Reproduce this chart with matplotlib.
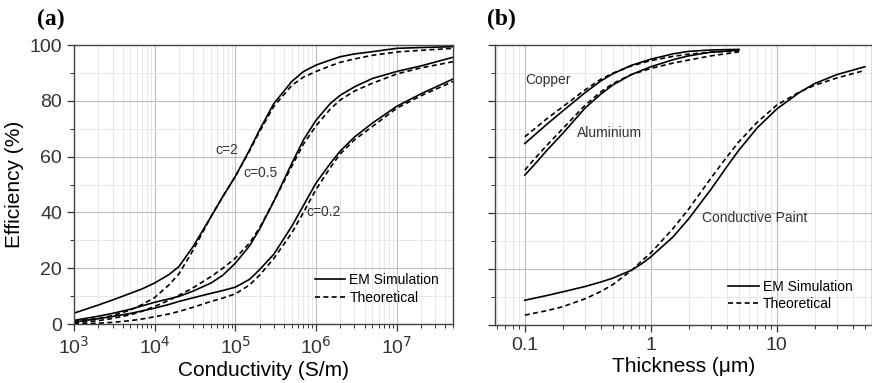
import matplotlib
matplotlib.use('Agg')
import matplotlib.pyplot as plt
from matplotlib.ticker import LogLocator, MultipleLocator, NullFormatter, FixedLocator, FixedFormatter
import numpy as np

plt.rcParams['font.family'] = ['Liberation Sans', 'DejaVu Sans']

# ---- panel (a): efficiency vs conductivity ----
sigma = [1e3, 2e3, 3e3, 5e3, 7e3, 1e4, 1.5e4, 2e4, 3e4, 5e4, 7e4, 1e5, 1.5e5, 2e5,
         3e5, 5e5, 7e5, 1e6, 1.5e6, 2e6, 3e6, 5e6, 1e7, 2e7, 5e7]
c2_em = [3.9, 6.8, 8.6, 11.0, 12.6, 14.7, 17.7, 20.6, 27.8, 38.5, 45.7, 52.9, 62.4, 69.6,
         79.0, 86.9, 90.5, 92.8, 94.6, 95.8, 96.8, 97.6, 98.8, 99.1, 99.4]
c2_th = [1.0, 2.0, 3.0, 5.0, 7.0, 9.5, 14.0, 18.0, 26.5, 38.5, 45.7, 52.9, 62.0, 69.0,
         78.0, 85.5, 88.5, 90.5, 92.5, 93.8, 95.0, 96.3, 97.5, 98.1, 98.8]
c05_em = [1.3, 2.8, 3.8, 5.3, 6.5, 7.8, 9.0, 9.9, 11.8, 14.7, 17.5, 21.8, 28.0, 34.0,
          44.0, 57.5, 66.0, 73.0, 79.0, 82.0, 85.0, 88.0, 90.5, 92.5, 95.6]
c05_th = [0.4, 1.2, 2.0, 3.3, 4.6, 6.3, 8.5, 10.3, 13.0, 17.0, 20.0, 23.6, 29.0, 34.5,
          44.0, 56.5, 64.5, 71.0, 77.0, 80.3, 83.5, 86.3, 89.6, 91.8, 94.0]
c02_em = [0.7, 1.9, 2.7, 3.8, 4.7, 5.7, 7.0, 8.1, 9.4, 11.0, 12.0, 13.2, 16.0, 19.5,
          25.0, 35.0, 42.5, 50.5, 57.5, 62.0, 67.0, 72.0, 78.0, 82.5, 87.8]
c02_th = [0.1, 0.3, 0.6, 1.2, 1.8, 2.6, 3.6, 4.5, 6.0, 8.1, 9.3, 10.8, 14.0, 17.5,
          23.5, 32.6, 40.0, 48.2, 56.0, 61.0, 66.0, 70.8, 77.3, 81.8, 86.9]

# ---- panel (b): efficiency vs thickness ----
thick_cu = [0.1, 0.12, 0.15, 0.2, 0.3, 0.4, 0.5, 0.7, 1, 1.5, 2, 3, 5]
cu_em = [64.9, 68.0, 71.8, 76.5, 83.0, 87.2, 89.8, 92.8, 95.0, 96.9, 97.8, 98.3, 98.5]
cu_th = [67.3, 70.2, 73.8, 78.0, 84.0, 87.8, 90.0, 92.6, 94.5, 96.0, 96.8, 97.5, 98.0]
al_em = [53.6, 57.5, 62.5, 68.5, 77.5, 82.5, 85.8, 89.5, 92.3, 94.8, 96.2, 97.5, 98.2]
al_th = [55.4, 59.5, 64.3, 70.2, 78.5, 83.3, 86.3, 89.5, 91.7, 93.6, 94.7, 96.2, 97.6]
thick_paint = [0.1, 0.15, 0.2, 0.3, 0.4, 0.5, 0.7, 0.85, 1, 1.5, 2, 3, 4, 5, 7, 10,
               15, 20, 30, 50]
paint_em = [8.9, 10.6, 11.9, 13.8, 15.4, 16.8, 19.6, 22.0, 24.4, 31.5, 38.0, 48.5,
            56.5, 62.5, 70.5, 77.2, 83.0, 86.3, 89.5, 92.3]
paint_th = [3.6, 5.2, 6.6, 9.4, 12.0, 14.5, 19.5, 23.0, 25.8, 34.5, 41.5, 52.5,
            60.0, 65.5, 72.5, 78.6, 83.2, 85.7, 88.3, 91.0]

xticks_a = [1e3, 1e4, 1e5, 1e6, 1e7]
xticklabels_a = ['10$^3$', '10$^4$', '10$^5$', '10$^6$', '10$^7$']
xticks_b = [0.1, 1, 10]
xticklabels_b = ['0.1', '1', '10']

solid = dict(color='black', lw=1.2, ls='-')
dashed = dict(color='black', lw=1.2, ls=(0, (3, 2)))
txt = dict(fontsize=10, color='#333333', va='center')

fig = plt.figure(figsize=(8.72, 3.83), dpi=100)
ax1 = fig.add_axes([0.0849, 0.154, 0.4346, 0.7285])
ax2 = fig.add_axes([0.5677, 0.151, 0.4323, 0.731])


def style(ax):
    ax.set_xscale('log')
    ax.set_ylim(0, 100)
    ax.yaxis.set_major_locator(MultipleLocator(20))
    ax.yaxis.set_minor_locator(MultipleLocator(10))
    ax.xaxis.set_minor_locator(LogLocator(base=10, subs=np.arange(2, 10), numticks=20))
    ax.xaxis.set_minor_formatter(NullFormatter())
    ax.grid(True, which='major', color='#bdbdbd', lw=0.8)
    ax.grid(True, which='minor', color='#e4e4e4', lw=0.6)
    ax.set_axisbelow(True)
    ax.tick_params(which='major', direction='out', length=5, width=0.9, colors='#333333',
                   labelsize=14, top=False, right=False)
    ax.tick_params(which='minor', direction='out', length=3, width=0.7, colors='#333333',
                   top=False, right=False)
    for s in ax.spines.values():
        s.set_color('#444444')
        s.set_linewidth(1.0)


# panel a
ax1.plot(sigma, c2_em, **solid, label='EM Simulation')
ax1.plot(sigma, c2_th, **dashed, label='Theoretical')
ax1.plot(sigma, c05_em, **solid)
ax1.plot(sigma, c05_th, **dashed)
ax1.plot(sigma, c02_em, **solid)
ax1.plot(sigma, c02_th, **dashed)
style(ax1)
ax1.set_xlim(1e3, 5e7)
ax1.xaxis.set_major_locator(FixedLocator(xticks_a))
ax1.xaxis.set_major_formatter(FixedFormatter(xticklabels_a))
ax1.set_xlabel('Conductivity (S/m)', fontsize=15, labelpad=2)
ax1.set_ylabel('Efficiency (%)', fontsize=15, labelpad=4)
ax1.text(5.6e4, 62.4, 'c=2', **txt)
ax1.text(1.25e5, 54, 'c=0.5', **txt)
ax1.text(7.6e5, 40, 'c=0.2', **txt)
ax1.legend(loc='lower right', frameon=False, fontsize=10, handlelength=2.2,
           handletextpad=0.3, labelspacing=0.25, borderaxespad=0.6,
           bbox_to_anchor=(1.0, 0.02))
fig.text(0.042, 0.935, '(a)', fontsize=17, fontweight='bold', family='Liberation Serif')

# panel b
ax2.plot(thick_cu, cu_em, **solid)
ax2.plot(thick_cu, cu_th, **dashed)
ax2.plot(thick_cu, al_em, **solid)
ax2.plot(thick_cu, al_th, **dashed)
ax2.plot(thick_paint, paint_em, **solid, label='EM Simulation')
ax2.plot(thick_paint, paint_th, **dashed, label='Theoretical')
style(ax2)
ax2.set_xlim(0.058, 57)
ax2.xaxis.set_major_locator(FixedLocator(xticks_b))
ax2.xaxis.set_major_formatter(FixedFormatter(xticklabels_b))
ax2.tick_params(axis='y', labelleft=False)
ax2.set_xlabel('Thickness (\u03bcm)', fontsize=15, labelpad=2)
ax2.text(0.1, 87.5, 'Copper', **txt)
ax2.text(0.26, 68.5, 'Aluminium', **txt)
ax2.text(2.55, 38.4, 'Conductive Paint', **txt)
ax2.legend(loc='lower right', frameon=False, fontsize=10, handlelength=2.2,
           handletextpad=0.3, labelspacing=0.25, borderaxespad=0.6,
           bbox_to_anchor=(0.985, 0.0))
fig.text(0.558, 0.935, '(b)', fontsize=17, fontweight='bold', family='Liberation Serif')

fig.savefig('out.png', dpi=100)
